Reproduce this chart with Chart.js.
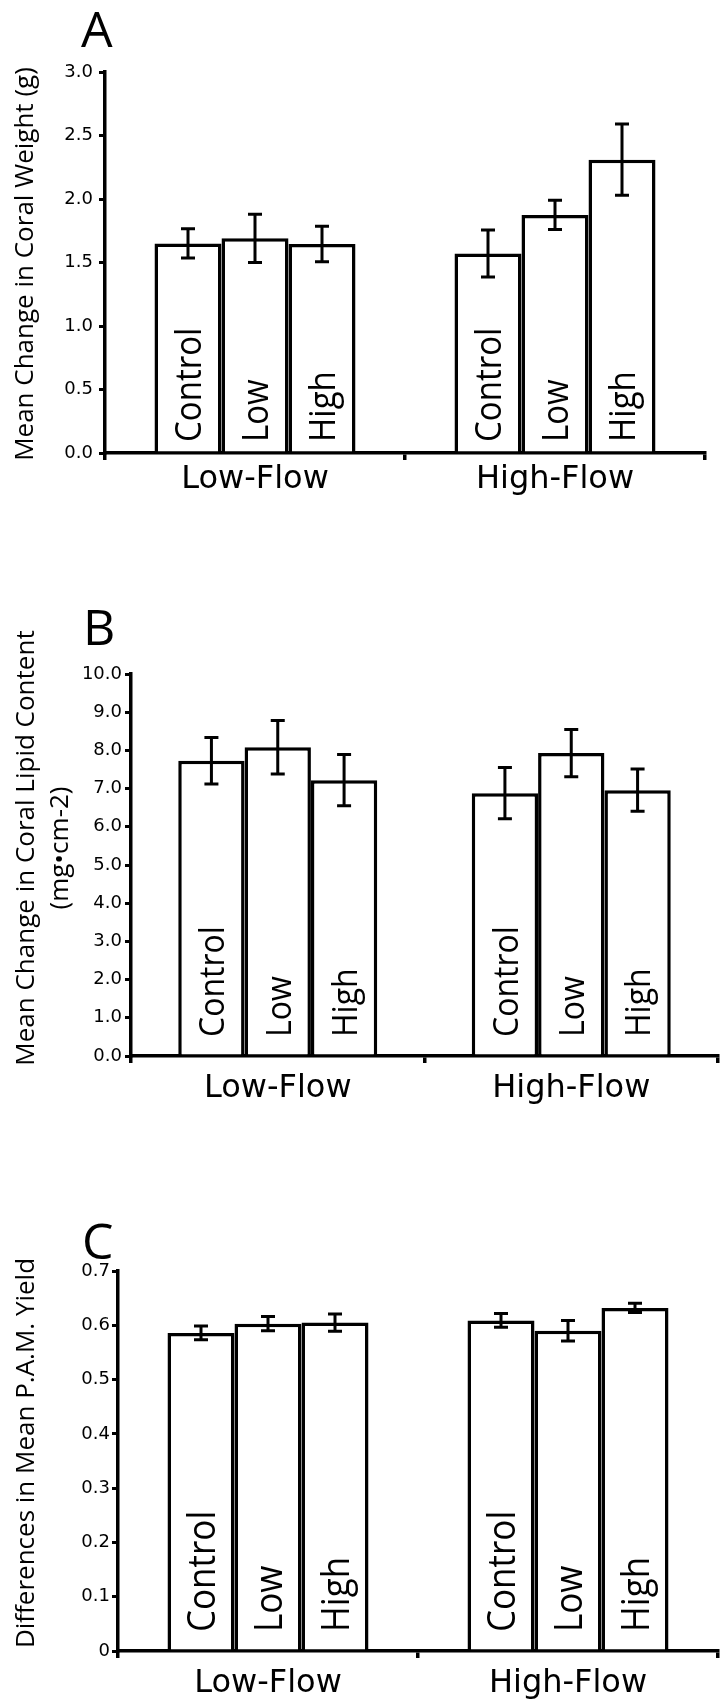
<!DOCTYPE html>
<html>
<head>
<meta charset="utf-8">
<script src="https://cdn.jsdelivr.net/npm/chart.js@4.4.1/dist/chart.umd.min.js"></script>
<style>
  body { margin: 0; background: #fff; }
  .panel { position: absolute; left: 0; width: 720px; }
</style>
</head>
<body>
<div class="panel" style="top:0;height:540px"><canvas id="chartA"></canvas></div>
<div class="panel" style="top:560px;height:560px"><canvas id="chartB"></canvas></div>
<div class="panel" style="top:1160px;height:542px"><canvas id="chartC"></canvas></div>
<script>
const flowGroups = ['Low-Flow', 'High-Flow'];
const treatments = ['Control', 'Low', 'High'];

// rows follow treatments, columns follow flowGroups
const weightMean = [[1.65, 1.57], [1.69, 1.875], [1.645, 2.31]];
const weightErr = [[0.115, 0.185], [0.19, 0.115], [0.14, 0.28]];
const weightTicks = ['0.0', '0.5', '1.0', '1.5', '2.0', '2.5', '3.0'];

const lipidMean = [[7.73, 6.88], [8.08, 7.93], [7.22, 6.96]];
const lipidErr = [[0.61, 0.67], [0.70, 0.62], [0.67, 0.555]];
const lipidTicks = ['0.0', '1.0', '2.0', '3.0', '4.0', '5.0', '6.0', '7.0', '8.0', '9.0', '10.0'];

const pamMean = [[0.586, 0.609], [0.603, 0.590], [0.605, 0.632]];
const pamErr = [[0.0125, 0.0125], [0.013, 0.019], [0.016, 0.0085]];
const pamTicks = ['0', '0.1', '0.2', '0.3', '0.4', '0.5', '0.6', '0.7'];

// error bars, rotated labels inside the bars, panel letter and y title
const decor = {
  id: 'decor',
  afterDatasetsDraw(chart, args, o) {
    const { ctx, chartArea: area, scales: { y } } = chart;
    ctx.save();
    chart.data.datasets.forEach((ds, i) => {
      chart.getDatasetMeta(i).data.forEach((bar, j) => {
        const v = ds.data[j], e = o.errors[i][j];
        const top = y.getPixelForValue(v + e), bot = y.getPixelForValue(v - e);
        ctx.strokeStyle = '#000';
        ctx.lineWidth = 3;
        ctx.beginPath();
        ctx.moveTo(bar.x, top); ctx.lineTo(bar.x, bot);
        ctx.moveTo(bar.x - 7, top); ctx.lineTo(bar.x + 7, top);
        ctx.moveTo(bar.x - 7, bot); ctx.lineTo(bar.x + 7, bot);
        ctx.stroke();

        ctx.save();
        ctx.translate(bar.x + o.labelSize * 0.4, area.bottom - o.labelGap);
        ctx.rotate(-Math.PI / 2);
        ctx.scale(1, 1.1);
        ctx.font = o.labelSize + 'px "Open Sans"';
        ctx.fillStyle = '#000';
        ctx.textAlign = 'left';
        ctx.textBaseline = 'alphabetic';
        ctx.fillText(ds.label, 0, 0);
        ctx.restore();
      });
    });
    ctx.restore();
  },
  afterDraw(chart, args, o) {
    const ctx = chart.ctx;
    ctx.save();
    ctx.fillStyle = '#000';
    ctx.textBaseline = 'alphabetic';
    ctx.font = '50px "Open Sans"';
    ctx.textAlign = 'left';
    ctx.fillText(o.letter, o.letterX, o.letterY);

    ctx.font = '26px "Open Sans"';
    ctx.textAlign = 'center';
    o.title.forEach((line, k) => {
      ctx.save();
      ctx.translate(o.titleX[k], o.titleY);
      ctx.rotate(-Math.PI / 2);
      ctx.fillText(line, 0, 0);
      ctx.restore();
    });
    ctx.restore();
  }
};

function buildChart(id, o) {
  return new Chart(document.getElementById(id), {
    type: 'bar',
    data: {
      labels: flowGroups,
      datasets: treatments.map((t, i) => ({
        label: t,
        data: o.means[i],
        backgroundColor: '#fff',
        borderColor: '#000',
        borderWidth: 3.5,
        barPercentage: 1,
        categoryPercentage: o.catPct
      }))
    },
    options: {
      responsive: true,
      maintainAspectRatio: false,
      animation: false,
      layout: { padding: { top: o.top, right: o.right, left: 0, bottom: 0 } },
      plugins: {
        legend: { display: false },
        tooltip: { enabled: false },
        decor: o.decor
      },
      scales: {
        x: {
          grid: { drawOnChartArea: false, tickLength: 7, color: '#000', lineWidth: 3.5 },
          border: { color: '#000', width: 3.5 },
          ticks: { color: '#000', font: { family: 'DejaVu Sans', size: 32 }, padding: o.xPad, maxRotation: 0 },
          afterFit: s => { s.height = o.xHeight; }
        },
        y: {
          min: 0,
          max: parseFloat(o.ticks[o.ticks.length - 1]),
          afterBuildTicks: s => { s.ticks = o.ticks.map(t => ({ value: parseFloat(t) })); },
          grid: { drawOnChartArea: false, tickLength: 6, color: '#000', lineWidth: 3 },
          border: { color: '#000', width: 3.5 },
          ticks: {
            color: '#000',
            font: { family: 'DejaVu Sans', size: 18 },
            padding: o.yPad,
            callback: (v, i) => o.ticks[i]
          },
          afterFit: s => { s.width = o.yWidth; }
        }
      }
    },
    plugins: [decor]
  });
}

buildChart('chartA', {
  means: weightMean, ticks: weightTicks, catPct: 0.67,
  top: 72, right: 15, yWidth: 105, xHeight: 87, xPad: 0, yPad: 6,
  decor: {
    errors: weightErr, labelSize: 33, labelGap: 11,
    letter: 'A', letterX: 81, letterY: 47,
    title: ['Mean Change in Coral Weight (g)'], titleX: [33], titleY: 264
  }
});

buildChart('chartB', {
  means: lipidMean, ticks: lipidTicks, catPct: 0.678,
  top: 114, right: 2, yWidth: 131, xHeight: 64, xPad: 6, yPad: 3,
  decor: {
    errors: lipidErr, labelSize: 32, labelGap: 19,
    letter: 'B', letterX: 83, letterY: 85,
    title: ['Mean Change in Coral Lipid Content', '(mg\u2022cm-2)'], titleX: [34, 68], titleY: 288
  }
});

buildChart('chartC', {
  means: pamMean, ticks: pamTicks, catPct: 0.67,
  top: 111, right: 2, yWidth: 118, xHeight: 51, xPad: 6, yPad: 2,
  decor: {
    errors: pamErr, labelSize: 35, labelGap: 19,
    letter: 'C', letterX: 82, letterY: 99,
    title: ['Differences in Mean P.A.M. Yield'], titleX: [34], titleY: 293
  }
});
</script>
</body>
</html>
